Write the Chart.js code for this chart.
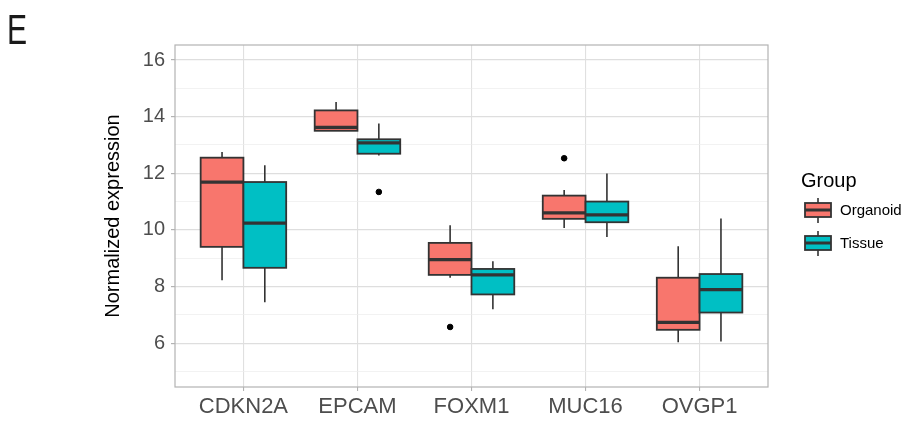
<!DOCTYPE html>
<html>
<head>
<meta charset="utf-8">
<script src="https://cdn.jsdelivr.net/npm/chart.js@4.4.1/dist/chart.umd.min.js"></script>
<style>
  html, body { margin: 0; padding: 0; background: #ffffff; }
  #wrap { width: 909px; height: 421px; position: relative; }
</style>
</head>
<body>
<div id="wrap"><canvas id="chart"></canvas></div>
<script>
// categories and groups
const genes = ["CDKN2A", "EPCAM", "FOXM1", "MUC16", "OVGP1"];
const groups = ["Organoid", "Tissue"];
const groupColors = ["#F8766D", "#00BFC4"];

// box statistics
const organoidMin = [8.22, 13.50, 8.31, 10.07, 6.03];
const organoidQ1 = [9.40, 13.50, 8.41, 10.39, 6.47];
const organoidMedian = [11.69, 13.62, 8.95, 10.60, 6.73];
const organoidQ3 = [12.55, 14.22, 9.54, 11.21, 8.31];
const organoidMax = [12.75, 14.52, 10.16, 11.41, 9.42];
const organoidOutliers = [[], [], [6.57], [12.53], []];

const tissueMin = [7.44, 12.63, 7.20, 9.75, 6.06];
const tissueQ1 = [8.66, 12.69, 7.72, 10.27, 7.08];
const tissueMedian = [10.24, 13.07, 8.41, 10.53, 7.89];
const tissueQ3 = [11.69, 13.20, 8.62, 11.00, 8.44];
const tissueMax = [12.28, 13.76, 8.89, 11.99, 10.40];
const tissueOutliers = [[], [11.34], [], [], []];

// axis ticks
const yMajorTicks = [6, 8, 10, 12, 14, 16];
const yMinorTicks = [5, 7, 9, 11, 13, 15];

const boxWidth = 0.375;   // per group, in category units
const dodge = [-0.1875, 0.1875];

const stats = [
  { min: organoidMin, q1: organoidQ1, med: organoidMedian, q3: organoidQ3, max: organoidMax, out: organoidOutliers },
  { min: tissueMin, q1: tissueQ1, med: tissueMedian, q3: tissueQ3, max: tissueMax, out: tissueOutliers },
];

const outlierPoints = (g) => {
  const pts = [];
  stats[g].out.forEach((list, i) => list.forEach(v => pts.push({ x: i + dodge[g], y: v })));
  return pts;
};

const FONT = "'Liberation Sans', Arial, sans-serif";
const EDGE = "#333333";

const boxPlugin = {
  id: "boxes",
  beforeDatasetsDraw(chart) {
    const { ctx, scales: { x, y } } = chart;
    ctx.save();
    stats.forEach((s, g) => {
      genes.forEach((gene, i) => {
        const c = i + dodge[g];
        const xl = x.getPixelForValue(c - boxWidth / 2);
        const xr = x.getPixelForValue(c + boxWidth / 2);
        const xc = x.getPixelForValue(c);
        const yMin = y.getPixelForValue(s.min[i]);
        const yQ1 = y.getPixelForValue(s.q1[i]);
        const yMed = y.getPixelForValue(s.med[i]);
        const yQ3 = y.getPixelForValue(s.q3[i]);
        const yMax = y.getPixelForValue(s.max[i]);

        // whiskers
        ctx.strokeStyle = EDGE;
        ctx.lineWidth = 1.6;
        ctx.beginPath();
        ctx.moveTo(xc, yMax); ctx.lineTo(xc, yQ3);
        ctx.moveTo(xc, yQ1); ctx.lineTo(xc, yMin);
        ctx.stroke();

        // box
        ctx.fillStyle = groupColors[g];
        ctx.fillRect(xl, yQ3, xr - xl, yQ1 - yQ3);
        ctx.lineWidth = 1.8;
        ctx.strokeRect(xl, yQ3, xr - xl, yQ1 - yQ3);

        // median
        ctx.lineWidth = 3.2;
        ctx.beginPath();
        ctx.moveTo(xl, yMed); ctx.lineTo(xr, yMed);
        ctx.stroke();
      });
    });
    ctx.restore();
  },
  afterDraw(chart) {
    const { ctx, chartArea: a } = chart;
    ctx.save();
    // panel border
    ctx.strokeStyle = "#b3b3b3";
    ctx.lineWidth = 1.2;
    ctx.strokeRect(a.left, a.top, a.right - a.left, a.bottom - a.top);

    // panel tag (narrow glyph like the source)
    ctx.fillStyle = "#1a1a1a";
    ctx.textBaseline = "alphabetic";
    ctx.textAlign = "left";
    ctx.save();
    ctx.translate(7, 44);
    ctx.scale(0.7, 1);
    ctx.font = "43px " + FONT;
    ctx.fillText("E", 0, 0);
    ctx.restore();

    // legend
    ctx.fillStyle = "#000000";
    ctx.font = "20px " + FONT;
    ctx.fillText("Group", 801, 187);
    groups.forEach((name, g) => {
      const cy = 210 + g * 33;
      const kx = 805, kw = 26;
      ctx.strokeStyle = EDGE;
      ctx.lineWidth = 1.6;
      ctx.beginPath();
      ctx.moveTo(kx + kw / 2, cy - 12); ctx.lineTo(kx + kw / 2, cy + 13);
      ctx.stroke();
      ctx.fillStyle = groupColors[g];
      ctx.fillRect(kx, cy - 7, kw, 14);
      ctx.lineWidth = 1.8;
      ctx.strokeRect(kx, cy - 7, kw, 14);
      ctx.lineWidth = 3;
      ctx.beginPath();
      ctx.moveTo(kx, cy); ctx.lineTo(kx + kw, cy);
      ctx.stroke();
      ctx.fillStyle = "#000000";
      ctx.font = "15px " + FONT;
      ctx.textBaseline = "middle";
      ctx.fillText(name, 840, cy + 1);
    });
    ctx.restore();
  },
};

new Chart(document.getElementById("chart"), {
  type: "scatter",
  data: {
    datasets: groups.map((name, g) => ({
      label: name,
      data: outlierPoints(g),
      backgroundColor: "#000000",
      borderColor: "#000000",
      pointRadius: 2.8,
      pointHoverRadius: 2.8,
    })),
  },
  options: {
    responsive: true,
    maintainAspectRatio: false,
    animation: false,
    layout: { padding: { left: 101, top: 45, right: 141, bottom: 0 } },
    plugins: {
      legend: { display: false },
      tooltip: { enabled: false },
    },
    scales: {
      x: {
        type: "linear",
        min: -0.6,
        max: 4.6,
        afterBuildTicks: (s) => { s.ticks = genes.map((g, i) => ({ value: i })); },
        afterFit: (s) => { s.height = 34; },
        ticks: {
          callback: (v) => genes[v],
          font: { family: FONT, size: 22 },
          color: "#4d4d4d",
          padding: 3,
          maxRotation: 0,
        },
        grid: { color: "#e0e0e0", lineWidth: 1.1, tickLength: 4, tickColor: "#b3b3b3" },
        border: { display: false },
      },
      y: {
        min: 4.45,
        max: 16.53,
        afterBuildTicks: (s) => {
          s.ticks = yMajorTicks.concat(yMinorTicks).sort((a, b) => a - b).map(v => ({ value: v }));
        },
        afterFit: (s) => { s.width = 74; },
        ticks: {
          callback: (v) => (yMajorTicks.includes(v) ? String(v) : ""),
          font: { family: FONT, size: 20 },
          color: "#4d4d4d",
          padding: 6,
        },
        grid: {
          color: (c) => (yMajorTicks.includes(c.tick.value) ? "#dedede" : "#ececec"),
          lineWidth: (c) => (yMajorTicks.includes(c.tick.value) ? 1.2 : 0.7),
          tickLength: 4,
          tickColor: (c) => (yMajorTicks.includes(c.tick.value) ? "#b3b3b3" : "rgba(0,0,0,0)"),
        },
        border: { display: false },
        title: {
          display: true,
          text: "Normalized expression",
          font: { family: FONT, size: 20 },
          color: "#000000",
          padding: { top: 0, bottom: 4 },
        },
      },
    },
  },
  plugins: [boxPlugin],
});
</script>
</body>
</html>
